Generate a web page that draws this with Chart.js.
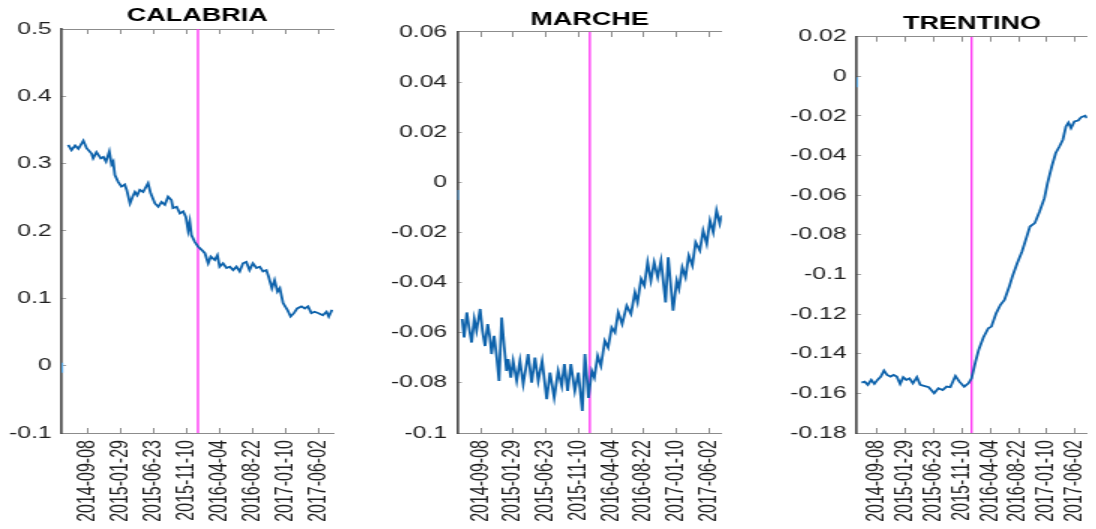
<!DOCTYPE html>
<html>
<head>
<meta charset="utf-8">
<script src="https://cdn.jsdelivr.net/npm/chart.js@4.4.1/dist/chart.umd.min.js"></script>
<style>
  html, body { margin: 0; padding: 0; background: #fff; overflow: hidden; }
  body { width: 1096px; height: 529px; position: relative; }
  /* the source figure is stretched sideways, so each canvas is too */
  canvas { position: absolute; top: 0; transform: scaleX(1.5); transform-origin: 0 0; }
</style>
</head>
<body>
<canvas id="calabria" width="240" height="529" style="left:0px;width:240px;height:529px"></canvas>
<canvas id="marche" width="245" height="529" style="left:365px;width:245px;height:529px"></canvas>
<canvas id="trentino" width="241" height="529" style="left:735px;width:241px;height:529px"></canvas>
<script>
// x is the observation index (trading days), ticks every 100 observations
const tickIdx = [100, 200, 300, 400, 500, 600, 700, 800];
const tickLabels = ["2014-09-08", "2015-01-29", "2015-06-23", "2015-11-10",
  "2016-04-04", "2016-08-22", "2017-01-10", "2017-06-02"];
const breakIdx = 434;

const calabriaX = [39, 49, 60, 70, 85, 95, 110, 115, 125, 138, 146, 154, 164, 171, 176, 181, 191, 201, 211, 217,
  227, 235, 242, 249, 257, 267, 282, 290, 303, 313, 323, 333, 343, 353, 358, 369, 379, 389, 397, 404,
  409, 414, 424, 434, 445, 455, 465, 473, 485, 493, 500, 510, 521, 531, 541, 551, 561, 571, 581, 591,
  601, 612, 622, 632, 642, 649, 659, 667, 676, 683, 693, 706, 716, 726, 736, 749, 759, 769, 779, 789,
  801, 814, 825, 832, 842];
const calabriaY = [0.328, 0.320, 0.327, 0.322, 0.334, 0.323, 0.315, 0.308, 0.317, 0.308, 0.310, 0.303, 0.318, 0.299, 0.303, 0.283, 0.273, 0.266, 0.269, 0.261,
  0.241, 0.251, 0.258, 0.253, 0.261, 0.258, 0.271, 0.256, 0.241, 0.236, 0.243, 0.239, 0.251, 0.246, 0.234, 0.236, 0.226, 0.229, 0.221, 0.201,
  0.214, 0.194, 0.184, 0.177, 0.172, 0.167, 0.152, 0.162, 0.157, 0.164, 0.147, 0.152, 0.145, 0.147, 0.142, 0.147, 0.140, 0.152, 0.154, 0.142,
  0.152, 0.145, 0.147, 0.140, 0.142, 0.132, 0.115, 0.127, 0.110, 0.115, 0.093, 0.083, 0.073, 0.078, 0.085, 0.088, 0.085, 0.088, 0.078, 0.080,
  0.078, 0.075, 0.080, 0.073, 0.083];
const calabriaStart = -0.003;
const calabriaTicks = [-0.1, 0, 0.1, 0.2, 0.3, 0.4, 0.5];

const marcheX = [43, 49, 57, 64, 72, 80, 87, 98, 105, 113, 121, 128, 133, 141, 149, 156, 164, 172, 179, 184,
  192, 199, 210, 220, 230, 245, 256, 266, 276, 288, 302, 312, 325, 337, 348, 356, 366, 376, 388, 399,
  411, 419, 430, 440, 448, 458, 468, 480, 490, 501, 511, 521, 533, 547, 560, 572, 580, 591, 601, 611,
  621, 631, 642, 652, 666, 674, 689, 700, 707, 717, 727, 737, 748, 758, 771, 781, 792, 802, 812, 822,
  832, 838];
const marcheY = [-0.0545, -0.0619, -0.0519, -0.0579, -0.0639, -0.0545, -0.0592, -0.0505, -0.0592, -0.0653,
  -0.0565, -0.0619, -0.0685, -0.0612, -0.0699, -0.0792, -0.0539, -0.0659, -0.0752, -0.0705,
  -0.0779, -0.0712, -0.0792, -0.0712, -0.0805, -0.0685, -0.0799, -0.0699, -0.0792, -0.0712,
  -0.0865, -0.0759, -0.0859, -0.0752, -0.0812, -0.0725, -0.0832, -0.0725, -0.0832, -0.0759,
  -0.0912, -0.0685, -0.0860, -0.0752, -0.0779, -0.0692, -0.0732, -0.0632, -0.0659, -0.0579,
  -0.0599, -0.0519, -0.0565, -0.0492, -0.0525, -0.0439, -0.0479, -0.0385, -0.0412, -0.0319,
  -0.0392, -0.0319, -0.0379, -0.0312, -0.0479, -0.0299, -0.0512, -0.0392, -0.0425, -0.0339,
  -0.0379, -0.0292, -0.0332, -0.0239, -0.0272, -0.0192, -0.0245, -0.0152, -0.0199, -0.0112,
  -0.0165, -0.0132];
const marcheStart = -0.005;
const marcheTicks = [-0.1, -0.08, -0.06, -0.04, -0.02, 0, 0.02, 0.04, 0.06];

const trentinoX = [46, 57, 68, 80, 91, 102, 114, 125, 136, 148, 159, 170, 182, 193, 204, 215, 227, 241, 253, 266,
  283, 302, 317, 332, 346, 359, 377, 391, 408, 423, 434, 448, 459, 476, 493, 504, 521, 536, 550, 567,
  578, 595, 612, 629, 640, 657, 674, 691, 702, 717, 731, 744, 756, 767, 776, 785, 797, 810, 821, 835, 841];
const trentinoY = [-0.1546, -0.1541, -0.1557, -0.1532, -0.1552, -0.1532, -0.1515, -0.1485, -0.1507, -0.1515,
  -0.1507, -0.1515, -0.1552, -0.1518, -0.1532, -0.1524, -0.1549, -0.1518, -0.1557, -0.1562,
  -0.1569, -0.1599, -0.1574, -0.1583, -0.1566, -0.1569, -0.1512, -0.1541, -0.1566, -0.1549,
  -0.1524, -0.1440, -0.1381, -0.1317, -0.1271, -0.1263, -0.1195, -0.1153, -0.1128, -0.1061,
  -0.1010, -0.0943, -0.0884, -0.0808, -0.0758, -0.0741, -0.0682, -0.0615, -0.0539, -0.0455,
  -0.0387, -0.0354, -0.0320, -0.0253, -0.0233, -0.0261, -0.0228, -0.0223, -0.0206, -0.0199, -0.0211];
const trentinoStart = -0.003;
const trentinoTicks = [-0.18, -0.16, -0.14, -0.12, -0.1, -0.08, -0.06, -0.04, -0.02, 0, 0.02];

const FONT = "'Liberation Sans', Arial, sans-serif";
const BLUE = "#0d62ab";
const MAGENTA = "#ff3cf5";
const AXIS_GRAY = "#8c8c8c";
const TEXT = "#1f1f1f";

function makePanel(id, title, xs, ys, start, yTicks, box) {
  const yMin = yTicks[0];
  const yMax = yTicks[yTicks.length - 1];
  const setXTicks = (s) => { s.ticks = tickIdx.map((v) => ({ value: v })); };
  const xGrid = { drawOnChartArea: false, drawTicks: true, tickLength: -5, color: AXIS_GRAY, lineWidth: 1 };

  return new Chart(document.getElementById(id), {
    type: "line",
    data: {
      datasets: [
        {
          data: xs.map((x, i) => ({ x: x, y: ys[i] })),
          borderColor: BLUE,
          borderWidth: 1.8,
          pointRadius: 0,
          tension: 0,
        },
        {
          data: [{ x: box.xMin + 2, y: start }],
          showLine: false,
          pointStyle: "line",
          pointRotation: 90,
          pointRadius: 5,
          pointBorderWidth: 1.2,
          pointBorderColor: "#5aa9e6",
        },
        {
          data: [{ x: breakIdx, y: yMin }, { x: breakIdx, y: yMax }],
          borderColor: MAGENTA,
          borderWidth: 1.4,
          pointRadius: 0,
        },
      ],
    },
    options: {
      responsive: false,
      animation: false,
      events: [],
      layout: { padding: { left: 0, right: box.padRight, top: 0, bottom: 0 } },
      plugins: {
        legend: { display: false },
        tooltip: { enabled: false },
        title: {
          display: true,
          text: title,
          fullSize: false,
          color: "#000",
          font: { family: FONT, size: 18, weight: "bold" },
          padding: { top: box.titleTop, bottom: box.titleBottom },
        },
      },
      scales: {
        x: {
          type: "linear",
          position: "bottom",
          min: box.xMin,
          max: box.xMax,
          afterBuildTicks: setXTicks,
          afterFit: (s) => { s.height = 96; s.paddingLeft = 0; s.paddingRight = 0; },
          grid: xGrid,
          border: { display: true, color: AXIS_GRAY, width: 1 },
          ticks: {
            autoSkip: false,
            minRotation: 90,
            maxRotation: 90,
            padding: 12,
            color: TEXT,
            font: { family: FONT, size: 16 },
            callback: (v, i) => tickLabels[i],
          },
        },
        xTop: {
          type: "linear",
          position: "top",
          min: box.xMin,
          max: box.xMax,
          afterBuildTicks: setXTicks,
          afterFit: (s) => { s.height = 0; s.paddingLeft = 0; s.paddingRight = 0; },
          grid: xGrid,
          border: { display: true, color: AXIS_GRAY, width: 1 },
          ticks: { display: false },
        },
        y: {
          type: "linear",
          min: yMin,
          max: yMax,
          afterBuildTicks: (s) => { s.ticks = yTicks.map((v) => ({ value: v })); },
          afterFit: (s) => { s.width = box.left; s.paddingTop = 0; s.paddingBottom = 0; },
          grid: { drawOnChartArea: false, drawTicks: true, tickLength: -3, color: "#a0a0a0" },
          border: { display: true, color: "#4d4d4d", width: 1.7 },
          ticks: {
            padding: 9.7,
            color: TEXT,
            font: { family: FONT, size: 16.5 },
            callback: (v) => String(Number(v.toFixed(2))),
          },
        },
      },
    },
  });
}

makePanel("calabria", "CALABRIA", calabriaX, calabriaY, calabriaStart, calabriaTicks,
  { xMin: 19, xMax: 845, left: 41.1, padRight: 18, titleTop: 5.7, titleBottom: 1.7 });
makePanel("marche", "MARCHE", marcheX, marcheY, marcheStart, marcheTicks,
  { xMin: 28, xMax: 838, left: 61.5, padRight: 7.2, titleTop: 9.2, titleBottom: 1.2 });
makePanel("trentino", "TRENTINO", trentinoX, trentinoY, trentinoStart, trentinoTicks,
  { xMin: 28.6, xMax: 842, left: 81.1, padRight: 0.3, titleTop: 12.9, titleBottom: 2.2 });
</script>
</body>
</html>
